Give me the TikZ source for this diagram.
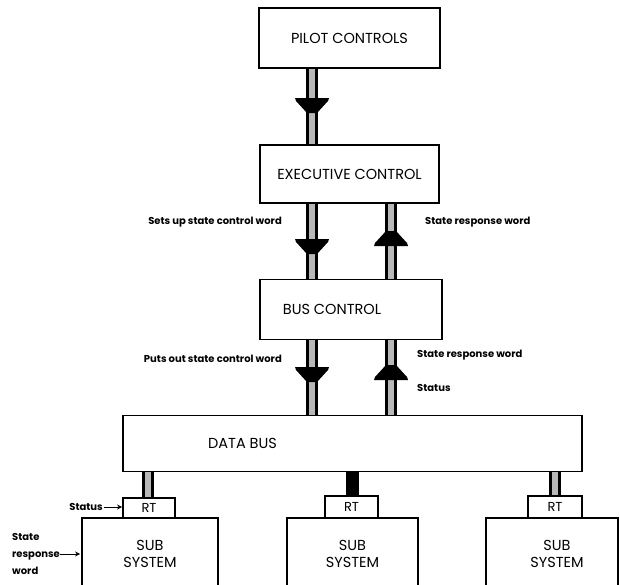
\documentclass[tikz,border=0pt]{standalone}
\usepackage{fontspec}
\setmainfont{Poppins}
\usetikzlibrary{arrows.meta}

\tikzset{
  boxfont/.style={font=\fontsize{14.5}{17}\selectfont},
  box/.style={draw=black, line width=1.8pt, fill=white, inner sep=0pt, boxfont},
  rtbox/.style={box, font=\fontsize{13}{15}\selectfont},
  subbox/.style={box, align=center, font=\fontsize{14.5}{17}\selectfont},
  bar/.style={line width=2.6pt, draw=black, double=black!28, double distance=6.5pt},
  solidbar/.style={line width=13pt, draw=black},
  lbl/.style={font=\bfseries\fontsize{10}{12}\selectfont, inner sep=1pt},
  smallarrow/.style={-{Stealth[length=5pt,width=5pt]}, line width=1pt},
  downhead/.pic={\fill[black] (-17,0) -- (17,0) -- (16,3) -- (5,15) -- (-5,15) -- (-16,3) -- cycle;},
  uphead/.pic={\fill[black] (-17,0) -- (17,0) -- (16,-3) -- (5,-15) -- (-5,-15) -- (-16,-3) -- cycle;}
}

\begin{document}
\begin{tikzpicture}[x=1pt, y=-1pt]
\useasboundingbox (0,0) rectangle (620,584);

% control chain
\node[box, minimum width=181pt, minimum height=60pt] (pilot) at (349.5,38) {PILOT CONTROLS};
\node[box, minimum width=179pt, minimum height=58pt] (exec) at (349.5,174) {EXECUTIVE CONTROL};
\node[box, minimum width=182pt, minimum height=60pt,
      label={[boxfont, xshift=-19pt]center:BUS CONTROL}] (busc) at (351,309.5) {};
\node[box, minimum width=459pt, minimum height=56pt,
      label={[boxfont, xshift=-110pt]center:DATA BUS}] (dbus) at (352.5,443.5) {};

% remote terminals and subsystems (open below the page edge)
\node[subbox, minimum width=136pt, minimum height=72pt] (sub1) at (150,554) {SUB\\SYSTEM};
\node[subbox, minimum width=131pt, minimum height=72pt] (sub2) at (352.5,554) {SUB\\SYSTEM};
\node[subbox, minimum width=132pt, minimum height=72pt, text width=120pt] (sub3) at (552,554) {\hspace*{10pt}SUB\\\hspace*{10pt}SYSTEM};
\node[rtbox, minimum width=52pt, minimum height=20pt] (rt1) at (149,508) {RT};
\node[rtbox, minimum width=53pt, minimum height=22pt] (rt2) at (351.5,507) {RT};
\node[rtbox, minimum width=54pt, minimum height=22pt] (rt3) at (555,507) {RT};

% bar positions
\coordinate (xa) at (312,0);
\coordinate (xb) at (391,0);

% pilot -> executive
\draw[bar] (xa |- pilot.south) -- (xa |- exec.north);
\pic at (312,98) {downhead};

% executive <-> bus control
\draw[bar] (xa |- exec.south) -- (xa |- busc.north);
\draw[bar] (xb |- exec.south) -- (xb |- busc.north);
\pic at (312,239) {downhead};
\pic at (391,246) {uphead};

% bus control <-> data bus
\draw[bar] (xa |- busc.south) -- (xa |- dbus.north);
\draw[bar] (xb |- busc.south) -- (xb |- dbus.north);
\pic at (312,367) {downhead};
\pic at (391,380) {uphead};

% data bus -> remote terminals
\draw[bar] (148,0 |- dbus.south) -- (148,0 |- rt1.north);
\draw[solidbar] (352,0 |- dbus.south) -- (352,0 |- rt2.north);
\draw[bar] (555,0 |- dbus.south) -- (555,0 |- rt3.north);

% labels
\node[lbl, anchor=east] (l1) at (283,222) {Sets up state control word};
\node[lbl, anchor=west] (l2) at (424,222) {State response word};
\node[lbl, anchor=east] (l3) at (283,359) {Puts out state control word};
\node[lbl, anchor=west] (l4) at (416,355) {State response word};
\node[lbl, anchor=west] (l5) at (416,388) {Status};

\node[lbl, anchor=east] (st) at (104,507) {Status};
\draw[smallarrow] (st.east) -- (st.east -| rt1.west);
\node[lbl, anchor=west, align=left, font=\bfseries\fontsize{10}{17}\selectfont] (srw) at (11,554) {State\\response\\word};
\draw[smallarrow] ([xshift=-1pt]srw.east) -- ([xshift=-1pt]srw.east -| sub1.west);
\end{tikzpicture}
\end{document}
